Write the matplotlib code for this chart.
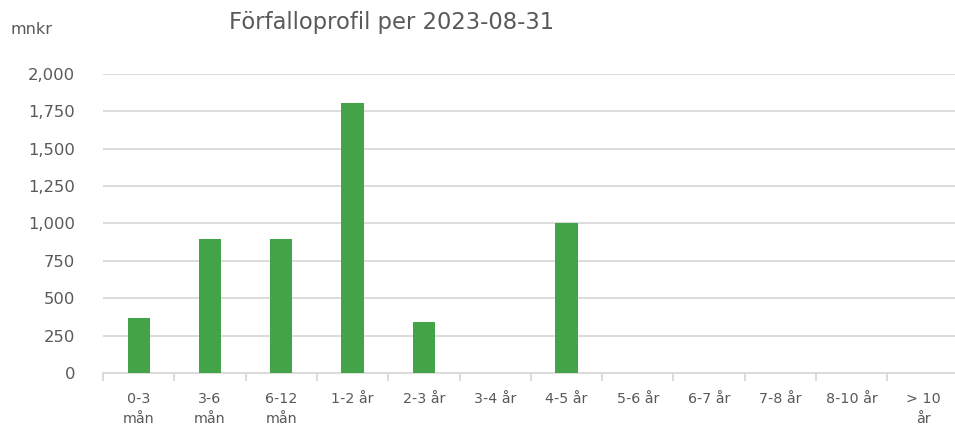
import matplotlib
matplotlib.use("Agg")
import matplotlib.pyplot as plt
from matplotlib.ticker import FuncFormatter, MultipleLocator, FixedLocator, NullFormatter

categories = ["0-3\nmån", "3-6\nmån", "6-12\nmån", "1-2 år", "2-3 år", "3-4 år",
              "4-5 år", "5-6 år", "6-7 år", "7-8 år", "8-10 år", "> 10\når"]
values = [366, 894, 898, 1806, 341, 0, 1000, 0, 0, 0, 0, 0]
title = "Förfalloprofil per 2023-08-31"
unit_label = "mnkr"

text_color = "#595959"
grid_color = "#D9D9D9"
bar_color = "#43A347"

plt.rcParams["font.family"] = ["DejaVu Sans"]

fig = plt.figure(figsize=(9.55, 4.29), dpi=100)
ax = fig.add_axes([103/955, 1-373/429, (958.6-103)/955, (373-74)/429])

x = list(range(len(categories)))
ax.bar(x, values, width=0.31, color=bar_color, zorder=3)

ax.set_xlim(-0.5, len(categories)-0.5)
ax.set_ylim(0, 2000)
ax.yaxis.set_major_locator(MultipleLocator(250))
ax.yaxis.set_major_formatter(FuncFormatter(lambda v, p: f"{int(v):,}"))
ax.grid(axis="y", color=grid_color, linewidth=1.3, zorder=0)
ax.set_axisbelow(True)

for s in ["top", "right", "left"]:
    ax.spines[s].set_visible(False)
ax.spines["bottom"].set_color(grid_color)
ax.spines["bottom"].set_linewidth(1.3)

ax.tick_params(axis="y", length=0, pad=20, labelsize=11.8, labelcolor=text_color)
ax.set_xticks(x)
ax.set_xticklabels(categories, fontsize=10.3, color=text_color, linespacing=1.5)
ax.tick_params(axis="x", which="major", length=0, pad=14)
ax.xaxis.set_minor_locator(FixedLocator([i - 0.5 for i in range(len(categories)+1)]))
ax.xaxis.set_minor_formatter(NullFormatter())
ax.tick_params(axis="x", which="minor", length=6, color=grid_color, width=1.3)

fig.text(392/955, 1-22/429, title, ha="center", va="center", fontsize=16.3, color=text_color)
fig.text(10/955, 1-30/429, unit_label, ha="left", va="center", fontsize=11.5, color=text_color)

fig.savefig("out.png", dpi=100)
